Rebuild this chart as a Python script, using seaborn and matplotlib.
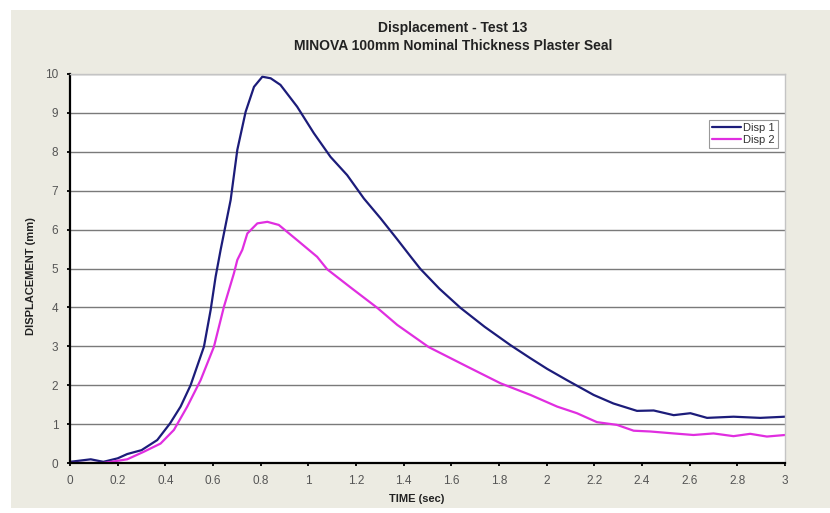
import matplotlib
matplotlib.use("Agg")
import matplotlib.pyplot as plt
import matplotlib.patches as mpatches
import seaborn as sns
import pandas as pd
import numpy as np

# ---- data ----
time_1 = [0.0, 0.087, 0.14, 0.20, 0.24, 0.30, 0.366, 0.42, 0.464, 0.506, 0.562, 0.59, 0.611,
          0.632, 0.674, 0.702, 0.737, 0.772, 0.807, 0.842, 0.883, 0.953, 1.023, 1.093, 1.163,
          1.233, 1.303, 1.373, 1.43, 1.47, 1.55, 1.638, 1.74, 1.848, 1.93, 2.002, 2.085, 2.197,
          2.28, 2.379, 2.449, 2.533, 2.603, 2.673, 2.784, 2.896, 3.0]
disp_1 = [0.03, 0.095, 0.03, 0.12, 0.23, 0.33, 0.59, 1.02, 1.45, 2.0, 2.99, 3.93, 4.79,
          5.48, 6.76, 8.05, 9.03, 9.67, 9.93, 9.89, 9.72, 9.16, 8.48, 7.87, 7.40,
          6.80, 6.29, 5.75, 5.30, 4.99, 4.48, 3.99, 3.50, 3.03, 2.70, 2.42, 2.13, 1.75,
          1.53, 1.34, 1.35, 1.23, 1.28, 1.16, 1.19, 1.16, 1.19]

time_2 = [0.0, 0.14, 0.24, 0.31, 0.38, 0.436, 0.492, 0.548, 0.604, 0.646, 0.688, 0.702, 0.723,
          0.744, 0.786, 0.828, 0.876, 0.953, 1.037, 1.079, 1.18, 1.289, 1.373, 1.505, 1.666,
          1.806, 1.932, 2.044, 2.127, 2.211, 2.295, 2.365, 2.435, 2.533, 2.616, 2.70, 2.784,
          2.854, 2.924, 3.0]
disp_2 = [0.0, 0.0, 0.095, 0.29, 0.5, 0.85, 1.45, 2.13, 2.99, 4.02, 4.88, 5.22, 5.48,
          5.90, 6.16, 6.20, 6.12, 5.73, 5.30, 4.98, 4.50, 3.99, 3.55, 2.98, 2.48,
          2.05, 1.75, 1.45, 1.28, 1.05, 0.98, 0.83, 0.81, 0.76, 0.72, 0.76, 0.69,
          0.75, 0.68, 0.72]

series_names = ["Disp 1", "Disp 2"]
series_colors = ["#1c1c7a", "#e02ee0"]
x_ticks = [0, 0.2, 0.4, 0.6, 0.8, 1, 1.2, 1.4, 1.6, 1.8, 2, 2.2, 2.4, 2.6, 2.8, 3]
x_tick_labels = ["0", "0.2", "0.4", "0.6", "0.8", "1", "1.2", "1.4", "1.6", "1.8", "2",
                 "2.2", "2.4", "2.6", "2.8", "3"]
y_ticks = list(range(0, 11))
title_lines = ["Displacement - Test 13", "MINOVA 100mm Nominal Thickness Plaster Seal"]
x_label = "TIME (sec)"
y_label = "DISPLACEMENT (mm)"

df = pd.concat([
    pd.DataFrame({"time": time_1, "disp": disp_1, "series": series_names[0]}),
    pd.DataFrame({"time": time_2, "disp": disp_2, "series": series_names[1]}),
], ignore_index=True)

sns.set_theme(style="white")
plt.rcParams["font.family"] = ["Liberation Sans", "DejaVu Sans"]

fig = plt.figure(figsize=(8.3, 5.13), dpi=100, facecolor="white")
# beige chart-area panel
fig.patches.append(mpatches.Rectangle((11 / 830, 1 - 508 / 513), 819 / 830, 498 / 513,
                                      transform=fig.transFigure, facecolor="#ecebe2",
                                      edgecolor="none", zorder=-10))

ax = fig.add_axes([70 / 830, 1 - 463 / 513, 715 / 830, (463 - 74) / 513])
ax.set_zorder(5)
ax.set_facecolor("white")

sns.lineplot(data=df, x="time", y="disp", hue="series", palette=series_colors,
             hue_order=series_names, sort=False, estimator=None, linewidth=1.6, ax=ax)

ax.set_xlim(0, 3)
ax.set_ylim(0, 10)
ax.set_xticks(x_ticks)
ax.set_xticklabels(x_tick_labels)
ax.set_yticks(y_ticks)
ax.yaxis.grid(True, color="#7a7a7a", linewidth=1.0)
ax.xaxis.grid(False)
ax.set_axisbelow(True)

for side in ["top", "right"]:
    ax.spines[side].set_color("#c4c4c4")
    ax.spines[side].set_linewidth(1.0)
for side in ["left", "bottom"]:
    ax.spines[side].set_color("black")
    ax.spines[side].set_linewidth(1.6)

ax.tick_params(axis="both", which="major", direction="out", length=2.5, width=1.3,
               color="black", labelsize=8.5, labelcolor="#555555", pad=6,
               bottom=True, left=True)

ax.set_xlabel(x_label, fontsize=8, fontweight="bold", color="#222222", labelpad=4)
ax.xaxis.set_label_coords((417 - 70) / 715, -(499 - 463) / 389)
ax.xaxis.label.set_verticalalignment("center")
ax.set_ylabel(y_label, fontsize=8, fontweight="bold", color="#222222", labelpad=8)
ax.yaxis.set_label_coords(-(70 - 31) / 715, 1 - (276 - 74) / 389)
ax.yaxis.label.set_verticalalignment("center")

fig.text(453 / 830, 1 - 28 / 513, title_lines[0], ha="center", va="center",
         fontsize=10, fontweight="bold", color="#222222", zorder=6)
fig.text(453 / 830, 1 - 46 / 513, title_lines[1], ha="center", va="center",
         fontsize=10, fontweight="bold", color="#222222", zorder=6)

leg = ax.legend(loc="upper left", bbox_to_anchor=(639 / 715, 1 - (120 - 74) / 389),
                fontsize=8, frameon=True, fancybox=False, handlelength=2.6,
                handletextpad=0.2, borderpad=0.3, labelspacing=0.15, borderaxespad=0)
leg.get_frame().set_edgecolor("#808080")
leg.get_frame().set_linewidth(0.8)
for t in leg.get_texts():
    t.set_color("#333333")

fig.savefig("out.png", dpi=100, facecolor="white")
